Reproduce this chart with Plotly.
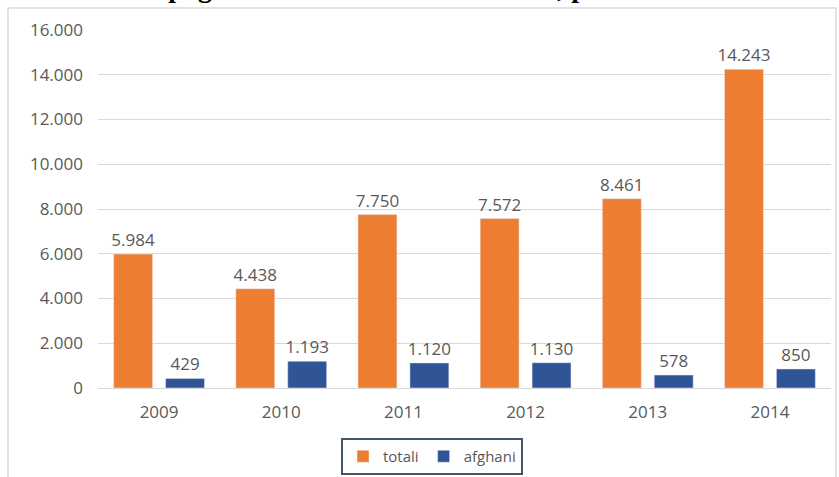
import plotly.graph_objects as go

# Anni e valori (minori non accompagnati)
years = ["2009", "2010", "2011", "2012", "2013", "2014"]
totali = [5984, 4438, 7750, 7572, 8461, 14243]
afghani = [429, 1193, 1120, 1130, 578, 850]
y_ticks = [0, 2000, 4000, 6000, 8000, 10000, 12000, 14000, 16000]

W, H = 839, 477
L, R, T, B = 98, 8, 30, 89

ORANGE = "#ED7D31"
BLUE = "#2F5597"
GREY_TXT = "#595959"
FONT = "Open Sans, Liberation Sans, sans-serif"
FS = 17

fig = go.Figure()
for name, vals, col in (("totali", totali, ORANGE), ("afghani", afghani, BLUE)):
    fig.add_trace(go.Bar(
        x=years, y=vals, name=name, marker_color=col,
        texttemplate="%{y:,}", textposition="outside", constraintext="none",
        textfont=dict(color=GREY_TXT, size=FS, family=FONT), cliponaxis=False,
    ))

# Conversione pixel -> coordinate paper
pw = W - L - R
ph = H - T - B
def px_x(v):
    return (v - L) / pw
def px_y(v):
    return (H - B - v) / ph

# Cornice grigia attorno al grafico
fig.add_shape(type="rect", xref="paper", yref="paper",
              x0=px_x(8), x1=px_x(836), y0=px_y(520), y1=px_y(8),
              line=dict(color="#D9D9D9", width=1.5), fillcolor="rgba(0,0,0,0)",
              layer="below")

# Titolo (in parte fuori dalla pagina)
fig.add_annotation(
    text="<b>Minori non accompagnati richiedenti asilo in Italia, periodo 2009-2014</b>",
    xref="paper", yref="paper", x=px_x(-53), y=px_y(5),
    xanchor="left", yanchor="bottom", showarrow=False,
    font=dict(family="Liberation Serif, Times New Roman, serif", size=28, color="black"),
)

fig.update_layout(
    width=W, height=H,
    margin=dict(l=L, r=R, t=T, b=B, autoexpand=False),
    paper_bgcolor="white", plot_bgcolor="white",
    separators=",.",
    barmode="group", bargap=0.15, bargroupgap=0.25,
    showlegend=True,
    legend=dict(
        orientation="h", x=px_x(432), xanchor="center",
        y=px_y(438), yanchor="top",
        bordercolor="#44546A", borderwidth=2, bgcolor="white",
        font=dict(family=FONT, size=15, color=GREY_TXT),
        itemwidth=30, traceorder="normal",
    ),
    xaxis=dict(
        type="category", showgrid=False, showline=True,
        linecolor="#D9D9D9", linewidth=1, ticks="",
        tickfont=dict(family=FONT, size=FS, color=GREY_TXT),
        ticklabelstandoff=9,
    ),
    yaxis=dict(
        range=[0, 16000], tickvals=y_ticks, tickformat=",",
        showgrid=True, gridcolor="#D9D9D9", gridwidth=1,
        zeroline=False, showline=False,
        tickfont=dict(family=FONT, size=FS, color=GREY_TXT),
        ticklabelstandoff=14,
    ),
)

fig.write_html("out.html")
